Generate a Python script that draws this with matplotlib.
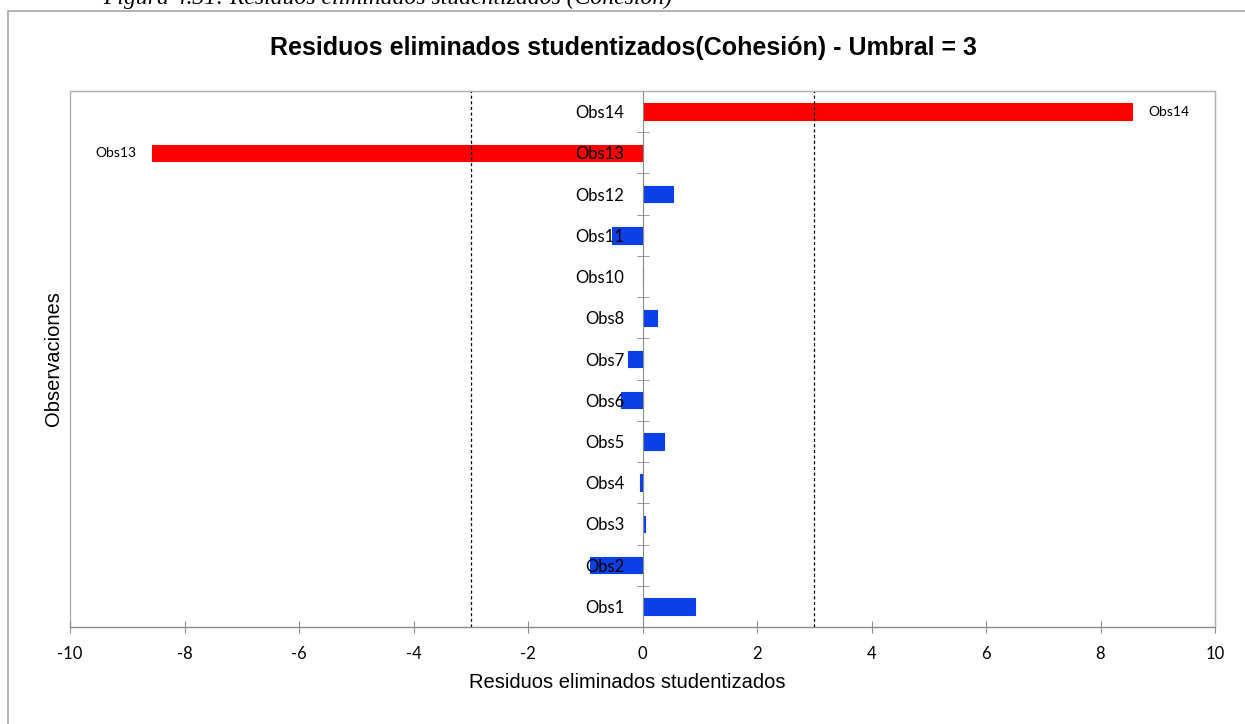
import numpy as np
import matplotlib.pyplot as plt
import matplotlib.patches as patches

# data
observaciones = ["Obs1", "Obs2", "Obs3", "Obs4", "Obs5", "Obs6", "Obs7",
                 "Obs8", "Obs10", "Obs11", "Obs12", "Obs13", "Obs14"]
residuos = [0.91, -0.92, 0.04, -0.04, 0.375, -0.38, -0.26,
            0.25, 0.0, -0.53, 0.53, -8.56, 8.55]
umbral = 3

plt.rcParams['axes.unicode_minus'] = False

W, H = 1245, 724
fig = plt.figure(figsize=(W / 100, H / 100), dpi=100)
ax = fig.add_axes([70 / W, 1 - 627 / H, 1145 / W, 536 / H])

pos = np.arange(len(observaciones))
colors = ['#ff0000' if abs(v) > umbral else '#0a40e6' for v in residuos]
ax.barh(pos, residuos, height=0.4, color=colors, edgecolor=colors,
        linewidth=0.8, zorder=1)

# labels at the end of the outlier bars
for p, v, name in zip(pos, residuos, observaciones):
    if abs(v) > umbral:
        off = 0.28 if v > 0 else -0.28
        ax.text(v + off, p, name, ha='left' if v > 0 else 'right', va='center',
                fontsize=10, family='Lato')

for x in (-umbral, umbral):
    ax.axvline(x, color='black', linewidth=0.9, linestyle=(0, (2.5, 2)), zorder=2)

ax.set_xlim(-10, 10)
ax.set_ylim(-0.5, len(observaciones) - 0.5)
ax.set_xticks(np.arange(-10, 11, 2))
ax.set_xticklabels([str(t) for t in range(-10, 11, 2)], family='Lato', fontsize=12)
ax.tick_params(axis='x', direction='inout', length=8, color='#8c8c8c', pad=10)

# category axis sits on x = 0
ax.spines['left'].set_position(('data', 0))
ax.spines['left'].set_color('#8c8c8c')
ax.spines['bottom'].set_color('#8c8c8c')
for s in ('top', 'right'):
    ax.spines[s].set_color('#b0b0b0')
ax.patch.set_edgecolor('#b0b0b0')
ax.patch.set_linewidth(1)

ax.set_yticks(pos)
ax.set_yticklabels(observaciones, family='Lato', fontsize=12)
ax.set_yticks(np.arange(-0.5, len(observaciones), 1), minor=True)
ax.tick_params(axis='y', which='major', length=0, pad=13)
ax.tick_params(axis='y', which='minor', direction='inout', length=8, color='#8c8c8c')

fig.text(623 / W, 1 - 48 / H, "Residuos eliminados studentizados(Cohesión) - Umbral = 3",
         ha='center', va='center', fontsize=18, fontweight='bold', family='Liberation Sans')
fig.text(627.5 / W, 1 - 683 / H, "Residuos eliminados studentizados",
         ha='center', va='center', fontsize=14.5, family='Liberation Sans')
fig.text(54 / W, 1 - 359 / H, "Observaciones", rotation=90,
         ha='center', va='center', fontsize=14.5, family='Liberation Sans')

# cut-off caption and outer chart frame
fig.text(103 / W, 1 - 4 / H, "Figura 4.31: Residuos eliminados studentizados (Cohesión)",
         ha='left', va='baseline', fontsize=17, style='italic', family='Liberation Serif')
fig.patches.append(patches.Rectangle((7.5 / W, -0.05), 1.1, 1 - 11 / H + 0.05,
                                     transform=fig.transFigure, fill=False,
                                     edgecolor='#a6a6a6', linewidth=1.2))

fig.savefig('out.png', dpi=100)
